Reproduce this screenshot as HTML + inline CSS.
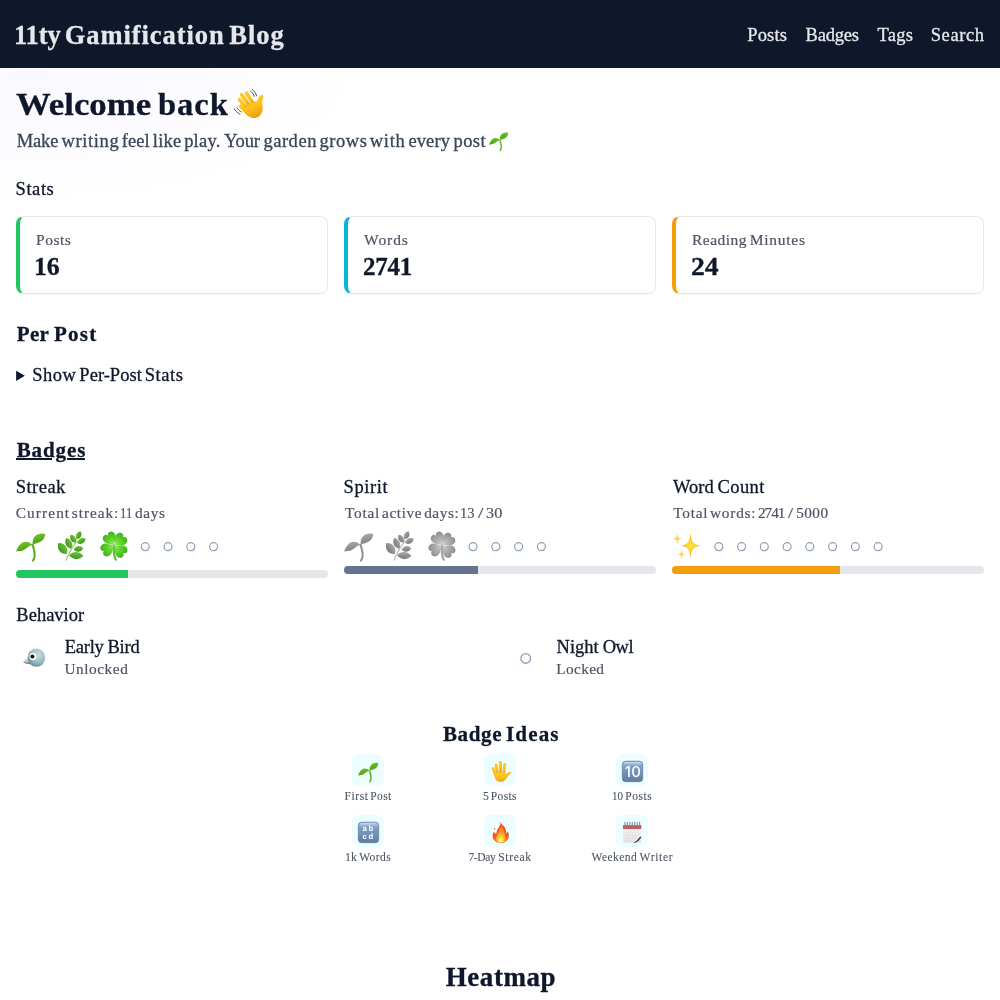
<!DOCTYPE html>
<html lang="en">
<head>
<meta charset="utf-8">
<title>11ty Gamification Blog</title>
<style>
*{box-sizing:border-box;margin:0;padding:0}
html,body{width:1000px;background:#fff}
body{font-family:"Liberation Serif",serif;color:#0f172a;font-size:18px;line-height:1;position:relative;height:1000px;overflow:hidden}
a{color:inherit;text-decoration:none}
.t{position:absolute;left:0;white-space:nowrap;line-height:1;display:block;font-weight:400;text-decoration:none;-webkit-text-stroke:0.3px currentColor}
.t span{display:inline-block;transform-origin:0 0}
.b{font-weight:700;-webkit-text-stroke:0.3px currentColor}
.sm{-webkit-text-stroke:0.1px currentColor}
.mu{-webkit-text-stroke:0.2px currentColor}
.t span{transform-origin:0 0}
.gray{filter:grayscale(1)}
header{position:absolute;left:0;top:0;width:1000px;height:68px;background:#0f172a}
.bg{position:absolute;left:0;top:68px;width:1000px;height:932px;background:radial-gradient(ellipse 330px 130px at 30px 5px,#f9f8ff 0%,#ffffff 100%)}
summary{list-style:none;cursor:pointer}
summary::-webkit-details-marker{display:none}
ul,li{list-style:none}
.card{position:absolute;top:216px;width:312px;height:78px;border:1px solid #e5e7eb;border-left:4px solid;border-radius:8px;background:#fff;box-shadow:0 1px 2px rgba(15,23,42,.04)}
.bar{position:absolute;width:312px;height:8px;border-radius:4px;background:#e5e7eb;overflow:hidden}
.bar b{display:block;height:8px}
.ic{position:absolute;display:block;overflow:visible}
.tile{position:absolute;width:32px;height:32px;border-radius:6px;background:#ecfeff}
.ul{position:absolute;height:2px;background:#0f172a}
</style>
</head>
<body>
<header>
<a id="brand" class="t b" style="top:22px;font-size:26.5px;color:#e5e7eb;"><span style="margin-left:13.92px;letter-spacing:-0.11px">11ty</span> <span style="margin-left:-2.45px;letter-spacing:0.93px">Gamification</span> <span style="margin-left:-2.00px;letter-spacing:0.96px">Blog</span></a>
<nav><a id="n1" class="t" style="top:26px;font-size:18.5px;color:#e5e7eb;"><span style="margin-left:747.21px;letter-spacing:0.18px">Posts</span></a><a id="n2" class="t" style="top:26px;font-size:18.5px;color:#e5e7eb;"><span style="margin-left:805.51px;letter-spacing:-0.21px">Badges</span></a><a id="n3" class="t" style="top:26px;font-size:18.5px;color:#e5e7eb;"><span style="margin-left:877.59px;letter-spacing:0.22px">Tags</span></a><a id="n4" class="t" style="top:26px;font-size:18.5px;color:#e5e7eb;"><span style="margin-left:930.76px;letter-spacing:0.58px">Search</span></a></nav>
</header>
<div class="bg"></div>
<main>
<section class="hero">
<h1 id="h1" class="t b" style="top:88px;font-size:32.5px;color:#0f172a;"><span style="margin-left:16.11px;transform:scaleX(1.069)">Welcome</span> <span style="margin-left:7.41px;letter-spacing:1.0px">back</span></h1>
<svg class="ic" role="img" aria-label="👋" style="left:229px;top:84px" width="40" height="40" viewBox="0 0 40 40"><title>👋</title><linearGradient id="wg1" x1="0" y1="0" x2="0.4" y2="1"><stop offset="0" stop-color="#fdc92a"/><stop offset="0.6" stop-color="#fcc21b"/><stop offset="1" stop-color="#eda312"/></linearGradient><g fill="none" stroke="#5a5a5a" stroke-width="1" stroke-linecap="round"><path d="M23.2 5.4 C25.4 7 27 9.2 27.6 11.8"/><path d="M21.6 7.2 C23.4 8.4 24.6 10.2 25.2 12.4"/><path d="M5.4 24.6 C6.4 27 8.4 29 11 30.2"/><path d="M8 23.6 C8.8 25.4 10.4 27 12.4 28"/></g><g fill="none" stroke="url(#wg1)" stroke-linecap="round" stroke-width="3.7"><path d="M17.6 9.2 L25 21"/><path d="M12.6 10.8 L21.5 23"/><path d="M10.4 15.6 L19 25.6"/><path d="M11.6 22.2 L17.6 28.2" stroke-width="3.5"/></g><path d="M19.4 21 C21.5 19.2 25 17.4 27.6 17.6 C29.2 15.6 29.6 13.4 30.8 12 C32 10.6 34.2 10.6 34.4 12.2 C34.6 14 33 16.2 33.2 19 C33.5 22.4 34.4 25.6 32.6 29.2 C30.8 32.8 27.2 34.6 23.6 34 C19.8 33.4 17 30.6 14.6 27.8 C13.8 26.8 16.4 23.6 19.4 21Z" fill="url(#wg1)"/></svg>
<p id="sub" class="t" style="top:132px;font-size:18.5px;color:#3a4658;"><span style="margin-left:16.66px;letter-spacing:-0.12px">Make</span> <span style="margin-left:-1.48px;letter-spacing:0.64px">writing</span> <span style="margin-left:-2.21px;letter-spacing:0.01px">feel</span> <span style="margin-left:-1.35px;letter-spacing:0.18px">like</span> <span style="margin-left:-1.83px;letter-spacing:0.24px">play.</span> <span style="margin-left:-1.06px;letter-spacing:-0.11px">Your</span> <span style="margin-left:-1.18px;letter-spacing:0.54px">garden</span> <span style="margin-left:-2.16px;letter-spacing:0.55px">grows</span> <span style="margin-left:-2.24px;letter-spacing:0.68px">with</span> <span style="margin-left:-1.66px;letter-spacing:0.11px">every</span> <span style="margin-left:-1.20px;letter-spacing:0.41px">post</span></p>
<svg class="ic" role="img" aria-label="🌱" style="left:485.4px;top:126.9px" width="26.4" height="26.4" viewBox="0 0 40 40"><title>🌱</title><linearGradient id="sg2" x1="0" y1="0" x2="0.3" y2="1"><stop offset="0" stop-color="#72cc22"/><stop offset="1" stop-color="#4a9e1a"/></linearGradient><path d="M22.6 19.9 C23.8 23.6 24.9 27.5 24.6 31 C24.4 33 23.8 34.6 23 35.7" fill="none" stroke="#58b01c" stroke-width="2.1" stroke-linecap="round"/><path d="M22.6 20.1 C20.8 18 18.6 16.6 15.8 16.7 C12.2 16.8 9.4 19.4 7.8 22.6 C7.2 24 6.6 25.4 6 26.8 C7.4 26.2 8.8 26.3 10.4 26.1 C13 25.8 15.2 24.2 17.4 22.5 C19 21.3 20.6 20.4 22.6 20.1Z" fill="url(#sg2)"/><path d="M22.7 19.6 C22.3 16.4 22.9 13.6 24.8 11.5 C27 9 30.2 8.3 33 8.5 C33.8 8.6 34.6 8.8 35.3 9.2 C34.9 10.6 34.7 12 34 13.3 C32.6 15.8 30.2 17.2 27.6 18 C26 18.5 24.2 18.8 22.7 19.6Z" fill="url(#sg2)"/></svg>
</section>
<section class="stats">
<h3 id="stats" class="t" style="top:180px;font-size:18.5px;color:#0f172a;"><span style="margin-left:15.60px;letter-spacing:0.55px">Stats</span></h3>
<div class="stat">
<div class="card" style="left:16px;border-left-color:#22c55e"></div>
<div id="k1" class="t mu" style="top:232px;font-size:15.5px;color:#4d5466;"><span style="margin-left:36.00px;letter-spacing:0.52px">Posts</span></div>
<div id="v1" class="t b" style="top:254px;font-size:25px;color:#0f172a;"><span style="margin-left:34.40px;transform:scaleX(1.029)">16</span></div>
</div>
<div class="stat">
<div class="card" style="left:344px;border-left-color:#06b6d4"></div>
<div id="k2" class="t mu" style="top:232px;font-size:15.5px;color:#4d5466;"><span style="margin-left:364.06px;letter-spacing:0.94px">Words</span></div>
<div id="v2" class="t b" style="top:254px;font-size:25px;color:#0f172a;"><span style="margin-left:363.10px;letter-spacing:-0.25px">2741</span></div>
</div>
<div class="stat">
<div class="card" style="left:672px;border-left-color:#f59e0b"></div>
<div id="k3" class="t mu" style="top:232px;font-size:15.5px;color:#4d5466;"><span style="margin-left:691.92px;letter-spacing:0.51px">Reading</span> <span style="margin-left:-1.27px;letter-spacing:0.73px">Minutes</span></div>
<div id="v3" class="t b" style="top:254px;font-size:25px;color:#0f172a;"><span style="margin-left:691.12px;transform:scaleX(1.106)">24</span></div>
</div>
</section>
<section class="per-post">
<h2 id="pp" class="t b" style="top:324px;font-size:21px;color:#0f172a;"><span style="margin-left:16.70px;letter-spacing:0.36px">Per</span> <span style="margin-left:-0.55px;letter-spacing:1.23px">Post</span></h2>
<svg class="ic" style="left:16px;top:370px" width="10" height="12" viewBox="0 0 10 12"><path d="M0.1 0.7 L8.9 5.8 L0.1 10.9 Z" fill="#0f172a"/></svg>
<details>
<summary id="show" class="t" style="top:366px;font-size:18.5px;color:#0f172a;"><span style="margin-left:32.28px;letter-spacing:0.46px">Show</span> <span style="margin-left:-1.55px;letter-spacing:0.02px">Per-Post</span> <span style="margin-left:-1.69px;letter-spacing:0.55px">Stats</span></summary>
</details>
</section>
<section class="badges">
<h2 id="badges" class="t b" style="top:440px;font-size:21px;color:#0f172a;"><span style="margin-left:16.63px;letter-spacing:0.92px">Badges</span></h2>
<i class="ul" style="left:16px;top:458px;width:36px"></i><i class="ul" style="left:67px;top:458px;width:18px"></i>
<div class="track">
<h3 id="s1" class="t" style="top:478px;font-size:18.5px;color:#0f172a;"><span style="margin-left:15.67px;letter-spacing:0.49px">Streak</span></h3>
<p id="m1" class="t mu" style="top:505px;font-size:15.3px;color:#4d5466;"><span style="margin-left:15.80px;letter-spacing:1.1px">Current</span> <span style="margin-left:-2.25px;letter-spacing:0.94px">streak:</span> <span style="margin-left:-3.01px;transform:scaleX(0.832)">11</span> <span style="margin-left:-3.62px;letter-spacing:0.67px">days</span></p>
<svg class="ic" role="img" aria-label="🌱" style="left:10px;top:525px" width="40" height="40" viewBox="0 0 40 40"><title>🌱</title><linearGradient id="sg3" x1="0" y1="0" x2="0.3" y2="1"><stop offset="0" stop-color="#72cc22"/><stop offset="1" stop-color="#4a9e1a"/></linearGradient><path d="M22.6 19.9 C23.8 23.6 24.9 27.5 24.6 31 C24.4 33 23.8 34.6 23 35.7" fill="none" stroke="#58b01c" stroke-width="2.1" stroke-linecap="round"/><path d="M22.6 20.1 C20.8 18 18.6 16.6 15.8 16.7 C12.2 16.8 9.4 19.4 7.8 22.6 C7.2 24 6.6 25.4 6 26.8 C7.4 26.2 8.8 26.3 10.4 26.1 C13 25.8 15.2 24.2 17.4 22.5 C19 21.3 20.6 20.4 22.6 20.1Z" fill="url(#sg3)"/><path d="M22.7 19.6 C22.3 16.4 22.9 13.6 24.8 11.5 C27 9 30.2 8.3 33 8.5 C33.8 8.6 34.6 8.8 35.3 9.2 C34.9 10.6 34.7 12 34 13.3 C32.6 15.8 30.2 17.2 27.6 18 C26 18.5 24.2 18.8 22.7 19.6Z" fill="url(#sg3)"/></svg>
<svg class="ic" role="img" aria-label="🌿" style="left:52px;top:525px" width="40" height="40" viewBox="0 0 40 40"><title>🌿</title><linearGradient id="hg4" x1="0" y1="0" x2="0" y2="1"><stop offset="0" stop-color="#6ec432"/><stop offset="1" stop-color="#3f9422"/></linearGradient><path d="M14 35.2 C16 29.5 20.5 22 25 15.8" fill="none" stroke="#9fd082" stroke-width="1.3" stroke-linecap="round"/><path transform="translate(10.6 23.4) rotate(52)" d="M-7.00 0 C-3.15 -5.33 3.15 -5.33 7.00 0 C3.15 5.33 -3.15 5.33 -7.00 0Z" fill="url(#hg4)"/><path transform="translate(16.8 18.3) rotate(64)" d="M-6.00 0 C-2.70 -4.18 2.70 -4.18 6.00 0 C2.70 4.18 -2.70 4.18 -6.00 0Z" fill="url(#hg4)"/><path transform="translate(21.2 13.8) rotate(58)" d="M-4.80 0 C-2.16 -3.46 2.16 -3.46 4.80 0 C2.16 3.46 -2.16 3.46 -4.80 0Z" fill="url(#hg4)"/><path transform="translate(26.6 10.3) rotate(-64)" d="M-4.50 0 C-2.02 -3.46 2.02 -3.46 4.50 0 C2.02 3.46 -2.02 3.46 -4.50 0Z" fill="url(#hg4)"/><path transform="translate(29.4 15.9) rotate(-30)" d="M-4.70 0 C-2.12 -3.60 2.12 -3.60 4.70 0 C2.12 3.60 -2.12 3.60 -4.70 0Z" fill="url(#hg4)"/><path transform="translate(26.4 23.9) rotate(-8)" d="M-4.80 0 C-2.16 -3.89 2.16 -3.89 4.80 0 C2.16 3.89 -2.16 3.89 -4.80 0Z" fill="url(#hg4)"/><path transform="translate(24.2 30.6) rotate(2)" d="M-7.20 0 C-3.24 -4.75 3.24 -4.75 7.20 0 C3.24 4.75 -3.24 4.75 -7.20 0Z" fill="url(#hg4)"/></svg>
<svg class="ic" role="img" aria-label="🍀" style="left:94px;top:525px" width="40" height="40" viewBox="0 0 40 40"><title>🍀</title><radialGradient id="cg5" cx="0.5" cy="0.85" r="0.9"><stop offset="0" stop-color="#8ae65a"/><stop offset="0.45" stop-color="#5fd02c"/><stop offset="1" stop-color="#42b01c"/></radialGradient><path d="M20 21 C19.4 26 19.9 30.6 21.7 34.6" fill="none" stroke="#58c62e" stroke-width="2.3" stroke-linecap="round"/><path transform="translate(20.3 20.4) rotate(-32) translate(0 -0.3)" d="M0 0 C-1.8 -2.8 -6.2 -4.8 -6.6 -8.8 C-6.9 -11.8 -4.6 -13.9 -2.4 -13.6 C-1.2 -13.4 -0.4 -12.5 0 -11.5 C0.4 -12.5 1.2 -13.4 2.4 -13.6 C4.6 -13.9 6.9 -11.8 6.6 -8.8 C6.2 -4.8 1.8 -2.8 0 0Z" fill="url(#cg5)"/><path transform="translate(20.3 20.4) rotate(47) translate(0 -0.3)" d="M0 0 C-1.8 -2.8 -6.2 -4.8 -6.6 -8.8 C-6.9 -11.8 -4.6 -13.9 -2.4 -13.6 C-1.2 -13.4 -0.4 -12.5 0 -11.5 C0.4 -12.5 1.2 -13.4 2.4 -13.6 C4.6 -13.9 6.9 -11.8 6.6 -8.8 C6.2 -4.8 1.8 -2.8 0 0Z" fill="url(#cg5)"/><path transform="translate(20.3 20.4) rotate(131) translate(0 -0.3)" d="M0 0 C-1.8 -2.8 -6.2 -4.8 -6.6 -8.8 C-6.9 -11.8 -4.6 -13.9 -2.4 -13.6 C-1.2 -13.4 -0.4 -12.5 0 -11.5 C0.4 -12.5 1.2 -13.4 2.4 -13.6 C4.6 -13.9 6.9 -11.8 6.6 -8.8 C6.2 -4.8 1.8 -2.8 0 0Z" fill="url(#cg5)"/><path transform="translate(20.3 20.4) rotate(241) translate(0 -0.3)" d="M0 0 C-1.8 -2.8 -6.2 -4.8 -6.6 -8.8 C-6.9 -11.8 -4.6 -13.9 -2.4 -13.6 C-1.2 -13.4 -0.4 -12.5 0 -11.5 C0.4 -12.5 1.2 -13.4 2.4 -13.6 C4.6 -13.9 6.9 -11.8 6.6 -8.8 C6.2 -4.8 1.8 -2.8 0 0Z" fill="url(#cg5)"/></svg>
<svg class="ic" style="left:136px;top:538px" width="96" height="18" viewBox="0 0 96 18" fill="none" stroke="#8f9fb9" stroke-width="1.2"><circle cx="9.25" cy="8.70" r="4.0"/><circle cx="32.03" cy="8.70" r="4.0"/><circle cx="54.81" cy="8.70" r="4.0"/><circle cx="77.59" cy="8.70" r="4.0"/></svg>
<div class="bar" style="left:16px;top:570px"><b style="width:112px;background:#22c55e"></b></div>
</div>
<div class="track">
<h3 id="s2" class="t" style="top:478px;font-size:18.5px;color:#0f172a;"><span style="margin-left:343.59px;letter-spacing:0.6px">Spirit</span></h3>
<p id="m2" class="t mu" style="top:505px;font-size:15.3px;color:#4d5466;"><span style="margin-left:345.05px;letter-spacing:0.77px">Total</span> <span style="margin-left:-1.86px;letter-spacing:0.57px">active</span> <span style="margin-left:-1.73px;letter-spacing:0.56px">days:</span> <span style="margin-left:-3.04px;transform:scaleX(0.946)">13</span> <span style="margin-left:-1.59px;transform:scaleX(1.269)">/</span> <span style="margin-left:0.07px;transform:scaleX(1.063)">30</span></p>
<svg class="ic gray" role="img" aria-label="🌱" style="left:338px;top:525px" width="40" height="40" viewBox="0 0 40 40"><title>🌱</title><linearGradient id="sg6" x1="0" y1="0" x2="0.3" y2="1"><stop offset="0" stop-color="#72cc22"/><stop offset="1" stop-color="#4a9e1a"/></linearGradient><path d="M22.6 19.9 C23.8 23.6 24.9 27.5 24.6 31 C24.4 33 23.8 34.6 23 35.7" fill="none" stroke="#58b01c" stroke-width="2.1" stroke-linecap="round"/><path d="M22.6 20.1 C20.8 18 18.6 16.6 15.8 16.7 C12.2 16.8 9.4 19.4 7.8 22.6 C7.2 24 6.6 25.4 6 26.8 C7.4 26.2 8.8 26.3 10.4 26.1 C13 25.8 15.2 24.2 17.4 22.5 C19 21.3 20.6 20.4 22.6 20.1Z" fill="url(#sg6)"/><path d="M22.7 19.6 C22.3 16.4 22.9 13.6 24.8 11.5 C27 9 30.2 8.3 33 8.5 C33.8 8.6 34.6 8.8 35.3 9.2 C34.9 10.6 34.7 12 34 13.3 C32.6 15.8 30.2 17.2 27.6 18 C26 18.5 24.2 18.8 22.7 19.6Z" fill="url(#sg6)"/></svg>
<svg class="ic gray" role="img" aria-label="🌿" style="left:380px;top:525px" width="40" height="40" viewBox="0 0 40 40"><title>🌿</title><linearGradient id="hg7" x1="0" y1="0" x2="0" y2="1"><stop offset="0" stop-color="#6ec432"/><stop offset="1" stop-color="#3f9422"/></linearGradient><path d="M14 35.2 C16 29.5 20.5 22 25 15.8" fill="none" stroke="#9fd082" stroke-width="1.3" stroke-linecap="round"/><path transform="translate(10.6 23.4) rotate(52)" d="M-7.00 0 C-3.15 -5.33 3.15 -5.33 7.00 0 C3.15 5.33 -3.15 5.33 -7.00 0Z" fill="url(#hg7)"/><path transform="translate(16.8 18.3) rotate(64)" d="M-6.00 0 C-2.70 -4.18 2.70 -4.18 6.00 0 C2.70 4.18 -2.70 4.18 -6.00 0Z" fill="url(#hg7)"/><path transform="translate(21.2 13.8) rotate(58)" d="M-4.80 0 C-2.16 -3.46 2.16 -3.46 4.80 0 C2.16 3.46 -2.16 3.46 -4.80 0Z" fill="url(#hg7)"/><path transform="translate(26.6 10.3) rotate(-64)" d="M-4.50 0 C-2.02 -3.46 2.02 -3.46 4.50 0 C2.02 3.46 -2.02 3.46 -4.50 0Z" fill="url(#hg7)"/><path transform="translate(29.4 15.9) rotate(-30)" d="M-4.70 0 C-2.12 -3.60 2.12 -3.60 4.70 0 C2.12 3.60 -2.12 3.60 -4.70 0Z" fill="url(#hg7)"/><path transform="translate(26.4 23.9) rotate(-8)" d="M-4.80 0 C-2.16 -3.89 2.16 -3.89 4.80 0 C2.16 3.89 -2.16 3.89 -4.80 0Z" fill="url(#hg7)"/><path transform="translate(24.2 30.6) rotate(2)" d="M-7.20 0 C-3.24 -4.75 3.24 -4.75 7.20 0 C3.24 4.75 -3.24 4.75 -7.20 0Z" fill="url(#hg7)"/></svg>
<svg class="ic gray" role="img" aria-label="🍀" style="left:422px;top:525px" width="40" height="40" viewBox="0 0 40 40"><title>🍀</title><radialGradient id="cg8" cx="0.5" cy="0.85" r="0.9"><stop offset="0" stop-color="#8ae65a"/><stop offset="0.45" stop-color="#5fd02c"/><stop offset="1" stop-color="#42b01c"/></radialGradient><path d="M20 21 C19.4 26 19.9 30.6 21.7 34.6" fill="none" stroke="#58c62e" stroke-width="2.3" stroke-linecap="round"/><path transform="translate(20.3 20.4) rotate(-32) translate(0 -0.3)" d="M0 0 C-1.8 -2.8 -6.2 -4.8 -6.6 -8.8 C-6.9 -11.8 -4.6 -13.9 -2.4 -13.6 C-1.2 -13.4 -0.4 -12.5 0 -11.5 C0.4 -12.5 1.2 -13.4 2.4 -13.6 C4.6 -13.9 6.9 -11.8 6.6 -8.8 C6.2 -4.8 1.8 -2.8 0 0Z" fill="url(#cg8)"/><path transform="translate(20.3 20.4) rotate(47) translate(0 -0.3)" d="M0 0 C-1.8 -2.8 -6.2 -4.8 -6.6 -8.8 C-6.9 -11.8 -4.6 -13.9 -2.4 -13.6 C-1.2 -13.4 -0.4 -12.5 0 -11.5 C0.4 -12.5 1.2 -13.4 2.4 -13.6 C4.6 -13.9 6.9 -11.8 6.6 -8.8 C6.2 -4.8 1.8 -2.8 0 0Z" fill="url(#cg8)"/><path transform="translate(20.3 20.4) rotate(131) translate(0 -0.3)" d="M0 0 C-1.8 -2.8 -6.2 -4.8 -6.6 -8.8 C-6.9 -11.8 -4.6 -13.9 -2.4 -13.6 C-1.2 -13.4 -0.4 -12.5 0 -11.5 C0.4 -12.5 1.2 -13.4 2.4 -13.6 C4.6 -13.9 6.9 -11.8 6.6 -8.8 C6.2 -4.8 1.8 -2.8 0 0Z" fill="url(#cg8)"/><path transform="translate(20.3 20.4) rotate(241) translate(0 -0.3)" d="M0 0 C-1.8 -2.8 -6.2 -4.8 -6.6 -8.8 C-6.9 -11.8 -4.6 -13.9 -2.4 -13.6 C-1.2 -13.4 -0.4 -12.5 0 -11.5 C0.4 -12.5 1.2 -13.4 2.4 -13.6 C4.6 -13.9 6.9 -11.8 6.6 -8.8 C6.2 -4.8 1.8 -2.8 0 0Z" fill="url(#cg8)"/></svg>
<svg class="ic" style="left:464px;top:538px" width="96" height="18" viewBox="0 0 96 18" fill="none" stroke="#8f9fb9" stroke-width="1.2"><circle cx="9.05" cy="8.70" r="4.0"/><circle cx="31.83" cy="8.70" r="4.0"/><circle cx="54.61" cy="8.70" r="4.0"/><circle cx="77.39" cy="8.70" r="4.0"/></svg>
<div class="bar" style="left:344px;top:566px"><b style="width:134px;background:#64748b"></b></div>
</div>
<div class="track">
<h3 id="s3" class="t" style="top:478px;font-size:18.5px;color:#0f172a;"><span style="margin-left:673.00px;letter-spacing:0.05px">Word</span> <span style="margin-left:-1.02px;letter-spacing:0.42px">Count</span></h3>
<p id="m3" class="t mu" style="top:505px;font-size:15.3px;color:#4d5466;"><span style="margin-left:673.25px;letter-spacing:0.77px">Total</span> <span style="margin-left:-2.21px;letter-spacing:0.8px">words:</span> <span style="margin-left:-2.35px;letter-spacing:-0.99px">2741</span> <span style="margin-left:0.04px;transform:scaleX(1.209)">/</span> <span style="margin-left:-0.25px;letter-spacing:0.41px">5000</span></p>
<svg class="ic" role="img" aria-label="✨" style="left:667px;top:525px" width="40" height="40" viewBox="0 0 40 40"><title>✨</title><radialGradient id="pg9" cx="0.5" cy="0.5" r="0.5"><stop offset="0" stop-color="#ffe43a"/><stop offset="0.38" stop-color="#ffd22e"/><stop offset="1" stop-color="#f58c14"/></radialGradient><path d="M23.6 8.0 C24.12 16.96 26.72 20.16 34.00 20.80 C26.72 21.44 24.12 24.64 23.60 33.60 C23.08 24.64 20.48 21.44 13.20 20.80 C20.48 20.16 23.08 16.96 23.60 8.00 Z" fill="url(#pg9)"/><path d="M10.3 7.6000000000000005 C10.49 11.94 11.41 13.49 14.00 13.80 C11.41 14.11 10.49 15.66 10.30 20.00 C10.12 15.66 9.19 14.11 6.60 13.80 C9.19 13.49 10.12 11.94 10.30 7.60 Z" fill="url(#pg9)"/><path d="M14.6 23.700000000000003 C14.78 27.62 15.68 29.02 18.20 29.30 C15.68 29.58 14.78 30.98 14.60 34.90 C14.42 30.98 13.52 29.58 11.00 29.30 C13.52 29.02 14.42 27.62 14.60 23.70 Z" fill="url(#pg9)"/></svg>
<svg class="ic" style="left:710px;top:538px" width="184" height="18" viewBox="0 0 184 18" fill="none" stroke="#8f9fb9" stroke-width="1.2"><circle cx="8.80" cy="8.70" r="4.0"/><circle cx="31.56" cy="8.70" r="4.0"/><circle cx="54.32" cy="8.70" r="4.0"/><circle cx="77.08" cy="8.70" r="4.0"/><circle cx="99.84" cy="8.70" r="4.0"/><circle cx="122.60" cy="8.70" r="4.0"/><circle cx="145.36" cy="8.70" r="4.0"/><circle cx="168.12" cy="8.70" r="4.0"/></svg>
<div class="bar" style="left:672px;top:566px"><b style="width:168px;background:#f59e0b"></b></div>
</div>
</section>
<section class="behavior">
<h3 id="beh" class="t" style="top:606px;font-size:18.5px;color:#0f172a;"><span style="margin-left:16.33px">Behavior</span></h3>
<div class="beh">
<svg class="ic" role="img" aria-label="🐦" style="left:14px;top:638px" width="40" height="40" viewBox="0 0 40 40"><title>🐦</title><radialGradient id="bg10" cx="0.62" cy="0.32" r="0.75"><stop offset="0" stop-color="#c9dade"/><stop offset="0.55" stop-color="#9dbfc2"/><stop offset="1" stop-color="#5d8f93"/></radialGradient><linearGradient id="bk11" x1="0" y1="0" x2="0" y2="1"><stop offset="0" stop-color="#e6e6ea"/><stop offset="0.7" stop-color="#c4c4c8"/><stop offset="1" stop-color="#4a4a4c"/></linearGradient><path d="M14.2 19.4 C11.8 20.6 9.8 22.4 9 24.2 C11 25.4 13.8 25.8 16.6 25.7 L17.2 21Z" fill="url(#bk11)"/><ellipse cx="22.4" cy="19.7" rx="8.8" ry="9.1" fill="url(#bg10)"/><ellipse cx="19" cy="18.6" rx="3.5" ry="3.6" fill="#fff"/><circle cx="18.4" cy="18.6" r="2" fill="#141414"/></svg>
<div id="eb" class="t" style="top:638px;font-size:18.5px;color:#0f172a;"><span style="margin-left:64.74px;letter-spacing:-0.25px">Early</span> <span style="margin-left:-0.69px;letter-spacing:-0.23px">Bird</span></div>
<div id="un" class="t mu" style="top:661px;font-size:15.3px;color:#4d5466;"><span style="margin-left:64.40px;letter-spacing:0.56px">Unlocked</span></div>
</div>
<div class="beh">
<svg class="ic" style="left:516px;top:649px" width="20" height="20" viewBox="0 0 20 20" fill="none" stroke="#8f9fb9" stroke-width="1.3"><circle cx="9.75" cy="9.40" r="4.85"/></svg>
<div id="no" class="t" style="top:638px;font-size:18.5px;color:#0f172a;"><span style="margin-left:556.56px;letter-spacing:-0.01px">Night</span> <span style="margin-left:-0.63px;letter-spacing:-0.48px">Owl</span></div>
<div id="lo" class="t mu" style="top:661px;font-size:15.3px;color:#4d5466;"><span style="margin-left:556.23px;letter-spacing:0.38px">Locked</span></div>
</div>
</section>
<section class="ideas">
<h2 id="bi" class="t b" style="top:724px;font-size:21px;color:#0f172a;"><span style="margin-left:442.89px;letter-spacing:0.65px">Badge</span> <span style="margin-left:-1.38px;letter-spacing:1.17px">Ideas</span></h2>
<div class="idea">
<div class="tile" style="left:352px;top:754px"></div>
<svg class="ic" role="img" aria-label="🌱" style="left:354.3px;top:757.2px" width="27.6" height="27.6" viewBox="0 0 40 40"><title>🌱</title><linearGradient id="sg12" x1="0" y1="0" x2="0.3" y2="1"><stop offset="0" stop-color="#72cc22"/><stop offset="1" stop-color="#4a9e1a"/></linearGradient><path d="M22.6 19.9 C23.8 23.6 24.9 27.5 24.6 31 C24.4 33 23.8 34.6 23 35.7" fill="none" stroke="#58b01c" stroke-width="2.1" stroke-linecap="round"/><path d="M22.6 20.1 C20.8 18 18.6 16.6 15.8 16.7 C12.2 16.8 9.4 19.4 7.8 22.6 C7.2 24 6.6 25.4 6 26.8 C7.4 26.2 8.8 26.3 10.4 26.1 C13 25.8 15.2 24.2 17.4 22.5 C19 21.3 20.6 20.4 22.6 20.1Z" fill="url(#sg12)"/><path d="M22.7 19.6 C22.3 16.4 22.9 13.6 24.8 11.5 C27 9 30.2 8.3 33 8.5 C33.8 8.6 34.6 8.8 35.3 9.2 C34.9 10.6 34.7 12 34 13.3 C32.6 15.8 30.2 17.2 27.6 18 C26 18.5 24.2 18.8 22.7 19.6Z" fill="url(#sg12)"/></svg>
<div id="c1" class="t sm" style="top:791px;font-size:11.5px;color:#4d5466;"><span style="margin-left:344.55px;letter-spacing:0.58px">First</span> <span style="margin-left:-1.10px;letter-spacing:0.35px">Post</span></div>
</div>
<div class="idea">
<div class="tile" style="left:484px;top:754px"></div>
<svg class="ic" role="img" aria-label="🖐" style="left:484px;top:754px" width="32" height="32" viewBox="0 0 32 32"><title>🖐</title><linearGradient id="ng13" x1="0" y1="0" x2="0.2" y2="1"><stop offset="0" stop-color="#fdc92a"/><stop offset="0.6" stop-color="#fcc21b"/><stop offset="1" stop-color="#eda312"/></linearGradient><g fill="none" stroke="url(#ng13)" stroke-linecap="round" stroke-width="2.9"><path d="M9.1 14.6 L11.8 21.5"/><path d="M12 10.9 L13.6 20"/><path d="M16.2 8.5 L16.4 20"/><path d="M20.6 10.4 L19.6 20"/></g><path d="M11 19 L21 18.6 C21.4 19.6 21.6 20 22.2 19.7 C23.6 18.6 25 17.6 26.4 17.6 C27.4 17.7 27.6 18.8 26.8 19.6 C25 21 23.6 22.6 22.4 24.4 C21.2 26.4 19 27.8 16.2 27.8 C13.4 27.8 11.4 26.2 10.8 23.8 C10.4 22.2 10.4 20.6 11 19Z" fill="url(#ng13)"/></svg>
<div id="c2" class="t sm" style="top:791px;font-size:11.5px;color:#4d5466;"><span style="margin-left:483.01px;transform:scaleX(1.016)">5</span> <span style="margin-left:-0.77px;letter-spacing:0.34px">Posts</span></div>
</div>
<div class="idea">
<div class="tile" style="left:616px;top:754px"></div>
<svg class="ic" role="img" aria-label="🔟" style="left:616px;top:754px" width="32" height="32" viewBox="0 0 32 32"><title>🔟</title><linearGradient id="kg14" x1="0" y1="0" x2="0" y2="1"><stop offset="0" stop-color="#8fb0d4"/><stop offset="0.25" stop-color="#7d9fc6"/><stop offset="1" stop-color="#5f7d9e"/></linearGradient><linearGradient id="kh15" x1="0" y1="0" x2="0" y2="1"><stop offset="0" stop-color="#d2e0ee" stop-opacity="0.95"/><stop offset="1" stop-color="#a9c3de" stop-opacity="0"/></linearGradient><rect x="6.3" y="7.2" width="20.4" height="20.5" rx="3.3" fill="url(#kg14)" stroke="#5d7a9a" stroke-width="0.7"/><rect x="7.3" y="7.9" width="18.4" height="4.6" rx="2.4" fill="url(#kh15)"/><text x="16.9" y="22.75" text-anchor="middle" font-family="Inter,NanumGothic,Liberation Sans,sans-serif" font-size="15" font-weight="500" fill="#fff" letter-spacing="0.3" text-rendering="geometricPrecision">10</text></svg>
<div id="c3" class="t sm" style="top:791px;font-size:11.5px;color:#4d5466;"><span style="margin-left:611.68px;transform:scaleX(0.96)">10</span> <span style="margin-left:-0.79px;letter-spacing:0.54px">Posts</span></div>
</div>
<div class="idea">
<div class="tile" style="left:352px;top:815px"></div>
<svg class="ic" role="img" aria-label="🔡" style="left:352px;top:815px" width="32" height="32" viewBox="0 0 32 32"><title>🔡</title><linearGradient id="kg16" x1="0" y1="0" x2="0" y2="1"><stop offset="0" stop-color="#8fb0d4"/><stop offset="0.25" stop-color="#7d9fc6"/><stop offset="1" stop-color="#5f7d9e"/></linearGradient><linearGradient id="kh17" x1="0" y1="0" x2="0" y2="1"><stop offset="0" stop-color="#d2e0ee" stop-opacity="0.95"/><stop offset="1" stop-color="#a9c3de" stop-opacity="0"/></linearGradient><rect x="6.3" y="7.2" width="20.4" height="20.5" rx="3.3" fill="url(#kg16)" stroke="#5d7a9a" stroke-width="0.7"/><rect x="7.3" y="7.9" width="18.4" height="4.6" rx="2.4" fill="url(#kh17)"/><text x="16.7" y="16" text-anchor="middle" font-family="Liberation Sans,sans-serif" font-size="7.8" font-weight="700" fill="#fff" letter-spacing="1.6" text-rendering="geometricPrecision">ab</text><text x="16.7" y="24" text-anchor="middle" font-family="Liberation Sans,sans-serif" font-size="7.8" font-weight="700" fill="#fff" letter-spacing="1.6" text-rendering="geometricPrecision">cd</text></svg>
<div id="c4" class="t sm" style="top:852px;font-size:11.5px;color:#4d5466;"><span style="margin-left:344.52px;transform:scaleX(1.031)">1k</span> <span style="margin-left:0.24px;letter-spacing:0.46px">Words</span></div>
</div>
<div class="idea">
<div class="tile" style="left:484px;top:815px"></div>
<svg class="ic" role="img" aria-label="🔥" style="left:484px;top:815px" width="32" height="32" viewBox="0 0 32 32"><title>🔥</title><linearGradient id="fg18" x1="0" y1="0" x2="0" y2="1"><stop offset="0" stop-color="#f9461c"/><stop offset="0.6" stop-color="#f8561c"/><stop offset="1" stop-color="#f97a10"/></linearGradient><radialGradient id="fc19" cx="0.5" cy="0.92" r="0.75"><stop offset="0" stop-color="#fffbe0"/><stop offset="0.22" stop-color="#ffe94a"/><stop offset="0.55" stop-color="#ffb52e"/><stop offset="1" stop-color="#fb8a2c" stop-opacity="0.9"/></radialGradient><path d="M16.2 7 C17 9.4 19.4 10.4 20.8 12.4 C22.2 14.4 22 16.6 22.2 18.4 C22.8 17.8 23.2 17 23.6 16.2 C24.8 18 25.2 20.4 24.6 22.6 C24 25 22 27 19.4 27.7 C17.4 28.1 14.6 28 12.6 27.2 C10.4 26.2 8.8 24 8.6 21.6 C8.4 19.8 9 18 10 16.4 C10.4 17.6 11 18.6 12.2 18.8 C12.6 17 13 14.8 14 13.4 C15.2 11.8 16.8 10.6 16.2 7Z" fill="url(#fg18)"/><path d="M9.6 14.6 C10.2 13.8 10.6 13 11 12.2 C11.4 13 11.2 14 10.6 14.8Z" fill="#f8561c"/><path d="M17.6 11.2 C18.6 13.8 20.4 15.6 20.6 18.4 C20.8 20 21.4 21.4 21.6 23 C21.8 25.4 20 27.2 17.6 27.6 C15.4 28 12.8 27 12 24.8 C11.4 23.2 12.4 21.4 13.2 19.8 C14.2 17.6 15 16 15.4 13.8 C16 13.4 17 12.4 17.6 11.2Z" fill="url(#fc19)"/></svg>
<div id="c5" class="t sm" style="top:852px;font-size:11.5px;color:#4d5466;"><span style="margin-left:468.46px;letter-spacing:-0.33px">7-Day</span> <span style="margin-left:-0.16px;letter-spacing:0.66px">Streak</span></div>
</div>
<div class="idea">
<div class="tile" style="left:616px;top:815px"></div>
<svg class="ic" role="img" aria-label="🗓" style="left:616px;top:815px" width="32" height="32" viewBox="0 0 32 32"><title>🗓</title><linearGradient id="cp20" x1="0" y1="0" x2="0" y2="1"><stop offset="0" stop-color="#fafafa"/><stop offset="1" stop-color="#e6e6e6"/></linearGradient><linearGradient id="cr21" x1="0" y1="0" x2="0" y2="1"><stop offset="0" stop-color="#b84646"/><stop offset="1" stop-color="#d46464"/></linearGradient><rect x="7.2" y="10.4" width="17.9" height="17.4" fill="url(#cp20)"/><rect x="7" y="10.2" width="18.3" height="3.9" fill="url(#cr21)"/><g stroke="#d4d4d4" stroke-width="0.4" fill="none"><path d="M10.2 14.6V27.8"/><path d="M13.2 14.6V27.8"/><path d="M16.2 14.6V27.8"/><path d="M19.2 14.6V27.8"/><path d="M22.2 14.6V27.8"/><path d="M7.2 17.2H25.1"/><path d="M7.2 20.0H25.1"/><path d="M7.2 22.8H25.1"/><path d="M7.2 25.6H25.1"/></g><g stroke="#7f8e9c" stroke-width="1.1" stroke-linecap="round" fill="none"><path d="M8.90 7.4V11.2"/><path d="M11.35 7.4V11.2"/><path d="M13.80 7.4V11.2"/><path d="M16.25 7.4V11.2"/><path d="M18.70 7.4V11.2"/><path d="M21.15 7.4V11.2"/><path d="M23.60 7.4V11.2"/></g><path d="M16.4 27.8 C19.6 26.6 21.6 24.6 23 22.6 C23.6 21.8 24.4 21.2 25.1 21 L25.1 22.8 C23.8 24.8 22 26.8 19.4 27.8Z" fill="#4c4c4c"/><path d="M25.1 21 C24.4 21.2 23.6 21.8 23 22.6 C21.6 24.6 19.6 26.6 16.4 27.8 L15 27.8 C18.6 26 21 23.4 22.4 21.4 C23.2 20.4 24.2 19.8 25.1 19.6Z" fill="#fdfdfd"/></svg>
<div id="c6" class="t sm" style="top:852px;font-size:11.5px;color:#4d5466;"><span style="margin-left:591.53px;letter-spacing:0.45px">Weekend</span> <span style="margin-left:-0.49px;letter-spacing:0.69px">Writer</span></div>
</div>
</section>
<section class="heatmap">
<h2 id="hm" class="t b" style="top:964px;font-size:27px;color:#0f172a;"><span style="margin-left:445.72px;letter-spacing:0.57px">Heatmap</span></h2>
</section>
</main>
</body>
</html>
